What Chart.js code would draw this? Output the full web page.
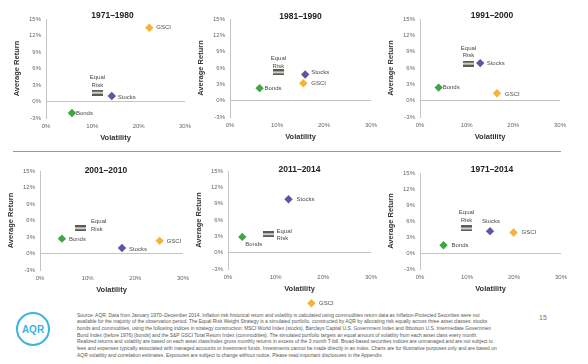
<!DOCTYPE html>
<html>
<head>
<meta charset="utf-8">
<script src="https://cdn.jsdelivr.net/npm/chart.js@4.4.1/dist/chart.umd.min.js"></script>
<style>
  body { margin: 0; background: #fff; width: 588px; height: 364px; overflow: hidden; position: relative;
         font-family: Arial, "Liberation Sans", sans-serif; }
  canvas { position: absolute; }
  #rule { position: absolute; left: 13px; top: 151px; width: 548px; height: 1px; background: #9a9a9a; }
  #notes { position: absolute; left: 77px; top: 312.5px; font-size: 4.95px; line-height: 6.7px; color: #555; white-space: nowrap; }
  #page { position: absolute; left: 539px; top: 314px; font-size: 7px; color: #777; }
  #logo { position: absolute; left: 14px; top: 310px; }
</style>
</head>
<body>
<div id="rule"></div>
<svg id="logo" width="38" height="38" viewBox="0 0 38 38">
  <circle cx="19" cy="19" r="16" fill="none" stroke="#3cb4dc" stroke-width="2"/>
  <text x="19" y="22.6" text-anchor="middle" font-size="10" font-family="Arial, Liberation Sans" fill="#3cb4dc" font-weight="bold">AQR</text>
</svg>
<div id="notes">
  <div>Source: AQR. Data from January 1970–December 2014. Inflation risk historical return and volatility is calculated using commodities return data as Inflation-Protected Securities were not</div>
  <div>available for the majority of the observation period. The Equal Risk Weight Strategy is a simulated portfolio, constructed by AQR by allocating risk equally across three asset classes:  stocks</div>
  <div>bonds and commodities, using the following indices in strategy construction: MSCI World Index (stocks), Barclays Capital U.S. Government Index and Ibbotson U.S. Intermediate Governmen</div>
  <div>Bond Index (before 1976) [bonds] and the S&amp;P GSCI Total Return Index (commodities). The simulated portfolio targets an equal amount of volatility from each asset class every month.</div>
  <div>Realized returns and volatility are based on each asset class/index gross monthly returns in excess of the 3 month T-bill. Broad-based securities indices are unmanaged and are not subject to</div>
  <div>fees and expenses typically associated with managed accounts or investment funds.  Investments cannot be made directly in an index. Charts are for illustrative purposes only and are based on</div>
  <div>AQR volatility and correlation estimates.  Exposures are subject to change without notice. Please read important disclosures in the Appendix.</div>
</div>
<div id="page">15</div>
<script>
// one entry per panel, volatility (x) and average return (y), in %
const periods  = ['1971–1980', '1981–1990', '1991–2000', '2001–2010', '2011–2014', '1971–2014'];
const bondsVol = [5.6, 6.3, 4.0, 4.6, 3.0, 5.0];
const bondsRet = [-2.1, 2.3, 2.4, 2.7, 2.9, 1.45];
const stocksVol = [14.2, 16.0, 12.9, 17.2, 12.7, 14.9];
const stocksRet = [1.0, 4.8, 6.9, 1.0, 9.8, 4.1];
const gsciVol = [22.3, 15.6, 16.5, 25.1, 17.5, 19.9];
const gsciRet = [13.4, 3.2, 1.35, 2.3, -9.3, 3.85];
const eqVol = [11.1, 10.3, 10.4, 8.6, 8.5, 9.9];
const eqRet = [1.6, 5.2, 6.8, 4.6, 3.4, 4.6];

const xTicks = [0, 10, 20, 30];
const yTicks = [-3, 0, 3, 6, 9, 12, 15];

// plot area of each panel on the page: left, top, right, bottom
const areas = [
  [46, 19, 185, 118],
  [230, 19, 371, 117],
  [420, 19, 560, 117],
  [40, 171, 183, 270],
  [228, 171, 371, 269],
  [420, 173, 561, 269]
];
// title nudges [dx, dy]
const titleShift = [[-3, -3], [0, -2.3], [2, -3], [-5.6, -0.3], [0, -1.7], [1.5, -3.3]];
// label placement per panel: Bonds, Stocks, GSCI, Equal Risk
const tags = [
  [{dx: 4, dy: 0, align: 'left'}, {dx: 6, dy: 1, align: 'left'}, {dx: 7, dy: 0, align: 'left'}, {dx: 0, dy: -15, align: 'center'}],
  [{dx: 5, dy: 0, align: 'left'}, {dx: 6, dy: -2, align: 'left'}, {dx: 8, dy: 0, align: 'left'}, {dx: 0, dy: -14, align: 'center'}],
  [{dx: 4, dy: 0, align: 'left'}, {dx: 6.5, dy: 0, align: 'left'}, {dx: 8, dy: 1, align: 'left'}, {dx: 0, dy: -15.5, align: 'center'}],
  [{dx: 7, dy: 1, align: 'left'}, {dx: 7, dy: 1.3, align: 'left'}, {dx: 7, dy: 0, align: 'left'}, {dx: 10, dy: -6.7, align: 'left'}],
  [{dx: 3, dy: 7.3, align: 'left'}, {dx: 8, dy: 0, align: 'left'}, {dx: 7.6, dy: 0, align: 'left'}, {dx: 8, dy: -3.3, align: 'left'}],
  [{dx: 8, dy: 0, align: 'left'}, {dx: 1, dy: -10, align: 'center'}, {dx: 8, dy: 0, align: 'left'}, {dx: 0, dy: -16, align: 'center'}]
];

const AXIS_W = 42, PAD_TOP = 24, PAD_RIGHT = 10, AXIS_H = 26;
const FONT = 'Arial, "Liberation Sans", sans-serif';

// the "=" marker used for the equal risk portfolio
const eqMark = document.createElement('canvas');
eqMark.width = 11; eqMark.height = 6;
const g = eqMark.getContext('2d');
g.fillStyle = '#5f5b53';
g.fillRect(0, 0, 11, 2.3);
g.fillRect(0, 3.7, 11, 2.3);

const tagPlugin = {
  id: 'tags',
  afterDatasetsDraw(chart, args, opts) {
    const ctx = chart.ctx;
    const a = chart.chartArea;
    ctx.save();
    ctx.font = '6px ' + FONT;
    ctx.fillStyle = '#4a4a4a';
    ctx.textBaseline = 'middle';
    chart.data.datasets.forEach((ds, k) => {
      const el = chart.getDatasetMeta(k).data[0];
      // Chart.js skips points off the plot area; the 2011–2014 GSCI one sits below it
      if (el.y > a.bottom || el.y < a.top) el.draw(ctx);
      const p = opts.place[k];
      ctx.fillStyle = '#4a4a4a';
      ctx.textAlign = p.align;
      ds.label.split(' ').forEach((t, j) => ctx.fillText(t, el.x + p.dx, el.y + p.dy + j * 7.6));
    });
    ctx.font = 'bold 8.5px ' + FONT;
    ctx.fillStyle = '#222';
    ctx.textAlign = 'center';
    ctx.fillText(opts.title, (a.left + a.right) / 2 + opts.shift[0], a.top + opts.shift[1]);
    ctx.restore();
  }
};

function diamond(label, color, x, y) {
  return { label, data: [{x, y}], pointStyle: 'rectRot', pointRadius: 4.2, clip: false,
           backgroundColor: color, borderColor: color, borderWidth: 0 };
}

areas.forEach((a, i) => {
  const w = a[2] - a[0], h = a[3] - a[1];
  const extra = i === 4 ? 45 : 0; // room for the 2011–2014 GSCI point below the scale
  const cv = document.createElement('canvas');
  cv.width = AXIS_W + w + PAD_RIGHT;
  cv.height = PAD_TOP + h + AXIS_H + extra;
  cv.style.left = (a[0] - AXIS_W) + 'px';
  cv.style.top = (a[1] - PAD_TOP) + 'px';
  document.body.appendChild(cv);

  new Chart(cv, {
    type: 'scatter',
    data: {
      datasets: [
        diamond('Bonds', '#3fa646', bondsVol[i], bondsRet[i]),
        diamond('Stocks', '#5a57a6', stocksVol[i], stocksRet[i]),
        diamond('GSCI', '#f6b338', gsciVol[i], gsciRet[i]),
        { label: 'Equal Risk', data: [{x: eqVol[i], y: eqRet[i]}], pointStyle: eqMark, pointRadius: 5, clip: false }
      ]
    },
    options: {
      responsive: false,
      animation: false,
      layout: { padding: { left: 0, top: PAD_TOP, right: PAD_RIGHT, bottom: extra } },
      plugins: {
        legend: { display: false },
        tooltip: { enabled: false },
        tags: { place: tags[i], title: periods[i], shift: titleShift[i] }
      },
      scales: {
        x: {
          min: xTicks[0], max: xTicks[xTicks.length - 1],
          afterBuildTicks: s => { s.ticks = xTicks.map(v => ({ value: v })); },
          afterFit: s => { s.height = AXIS_H; s.paddingLeft = 0; s.paddingRight = 0; },
          grid: { display: false, drawTicks: false },
          border: { display: false },
          ticks: { padding: 5, color: '#666', font: { size: 6, family: FONT }, callback: v => v + '%', maxRotation: 0 },
          title: { display: true, text: 'Volatility', color: '#333', padding: { top: 0, bottom: 1.5 },
                   font: { size: 7.5, weight: 'bold', family: FONT } }
        },
        y: {
          min: yTicks[0], max: yTicks[yTicks.length - 1],
          afterBuildTicks: s => { s.ticks = yTicks.map(v => ({ value: v })); },
          afterFit: s => { s.width = AXIS_W; s.paddingTop = 0; s.paddingBottom = 0; },
          grid: { drawTicks: false, color: c => (c.tick && c.tick.value === 0) ? '#c4c4c4' : 'rgba(0,0,0,0)' },
          border: { display: true, color: '#c4c4c4', width: 1 },
          ticks: { padding: 5, color: '#666', font: { size: 6, family: FONT }, callback: v => v + '%' },
          title: { display: true, text: 'Average Return', color: '#333', padding: { top: 8.5, bottom: 0 },
                   font: { size: 7.5, weight: 'bold', family: FONT } }
        }
      }
    },
    plugins: [tagPlugin]
  });
});
</script>
</body>
</html>
